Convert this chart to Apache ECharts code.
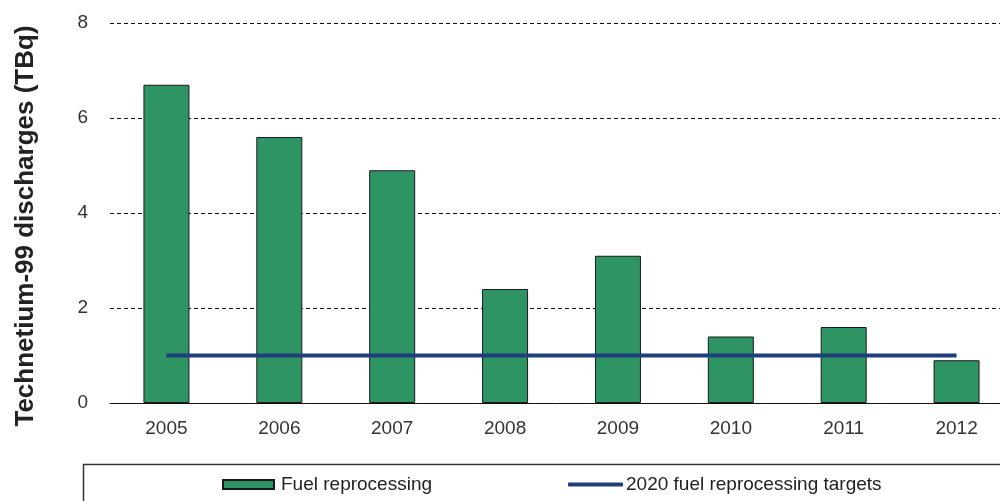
<!DOCTYPE html>
<html>
<head>
<meta charset="utf-8">
<script src="https://cdn.jsdelivr.net/npm/echarts@6/dist/echarts.min.js"></script>
<style>
  html, body { margin: 0; padding: 0; background: #fff; }
  #myChart { width: 1000px; height: 501px; }
</style>
</head>
<body>
<div id="myChart"></div>
<script>
  // data
  var years = ['2005', '2006', '2007', '2008', '2009', '2010', '2011', '2012']
  var fuelReprocessing = [6.7, 5.6, 4.9, 2.4, 3.1, 1.4, 1.6, 0.9]
  var targets2020 = [1, 1, 1, 1, 1, 1, 1, 1]
  var yTicks = { min: 0, max: 8, interval: 2 }

  var font = 'Liberation Sans, Arial, sans-serif'
  var myChart = echarts.init(document.getElementById('myChart'))

  myChart.setOption({
    backgroundColor: '#fff',
    animation: false,
    grid: {
      left: 110,
      top: 23,
      width: 903,
      height: 380,
      outerBoundsMode: 'none'
    },
    graphic: [
      {
        // box around the legend
        type: 'rect',
        silent: true,
        shape: { x: 83.5, y: 464.5, width: 1000, height: 100 },
        style: { fill: 'none', stroke: '#333', lineWidth: 1.5 }
      }
    ],
    legend: [
      {
        data: [{ name: 'Fuel reprocessing', icon: 'rect' }],
        left: 217,
        top: 470,
        itemWidth: 51,
        itemHeight: 9,
        itemGap: 0,
        textStyle: { fontFamily: font, fontSize: 19, color: '#222', padding: [0, 0, 0, 2] }
      },
      {
        data: [{ name: '2020 fuel reprocessing targets', icon: 'roundRect' }],
        left: 563,
        top: 470,
        itemWidth: 55,
        itemHeight: 4,
        textStyle: { fontFamily: font, fontSize: 19, color: '#222', padding: [0, 0, 0, -2] }
      }
    ],
    xAxis: {
      type: 'category',
      data: years,
      axisLine: { lineStyle: { color: '#111', width: 1 } },
      axisTick: { length: 5, lineStyle: { color: '#111' } },
      axisLabel: { fontFamily: font, fontSize: 19, color: '#333', margin: 16 },
      splitLine: { show: false }
    },
    yAxis: {
      type: 'value',
      min: yTicks.min,
      max: yTicks.max,
      interval: yTicks.interval,
      name: 'Technetium-99 discharges (TBq)',
      nameLocation: 'middle',
      nameGap: 71,
      nameTextStyle: {
        fontFamily: font,
        fontSize: 26,
        fontWeight: 'bold',
        color: '#222',
        padding: [0, 26, 0, 0]
      },
      axisLine: { show: false },
      axisTick: { show: false },
      axisLabel: { fontFamily: font, fontSize: 19, color: '#333', margin: 22 },
      splitLine: {
        lineStyle: { color: '#111', type: [4, 3], width: 1 }
      }
    },
    series: [
      {
        name: 'Fuel reprocessing',
        type: 'bar',
        data: fuelReprocessing,
        barWidth: 46,
        itemStyle: {
          color: '#2f9463',
          borderColor: '#1a1a1a',
          borderWidth: 1
        }
      },
      {
        name: '2020 fuel reprocessing targets',
        type: 'line',
        data: targets2020,
        symbol: 'none',
        lineStyle: { color: '#1f3f7a', width: 4 },
        itemStyle: { color: '#1f3f7a' }
      }
    ]
  })
</script>
</body>
</html>
